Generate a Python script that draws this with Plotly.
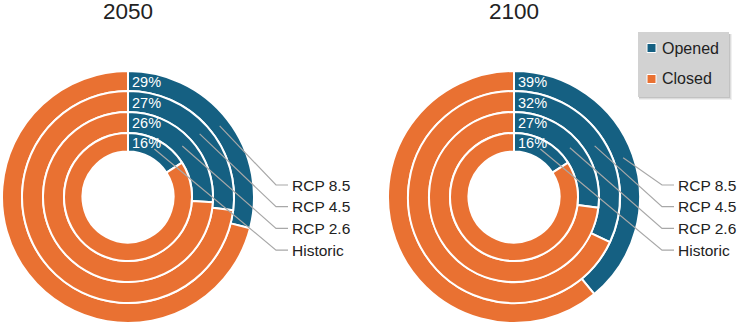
import math
import plotly.graph_objects as go

# ---------------- data ----------------
years = ["2050", "2100"]
scenarios = ["RCP 8.5", "RCP 4.5", "RCP 2.6", "Historic"]   # outer -> inner ring
opened_2050 = [29, 27, 26, 16]
closed_2050 = [71, 73, 74, 84]
opened_2100 = [39, 32, 27, 16]
closed_2100 = [61, 68, 73, 84]
status_labels = ["Opened", "Closed"]

opened = {"2050": opened_2050, "2100": opened_2100}
closed = {"2050": closed_2050, "2100": closed_2100}

# ---------------- layout / style ----------------
W, H = 740, 326
BLUE = "#156082"
ORANGE = "#E97132"
TXT = "#222222"
LEAD = "#a8a8a8"
FONT = "Liberation Sans, Arial, sans-serif"
centers = {"2050": (128, 197), "2100": (514, 197)}
radii = [126, 106, 85, 64, 45.5]  # ring edges, outer -> hole


def px(x):
    return x / W


def py(y):
    return 1 - y / H


fig = go.Figure()
annotations = []
shapes = []

for yr in years:
    cx, cy = centers[yr]
    for i, sc in enumerate(scenarios):
        r_out, r_in = radii[i], radii[i + 1]
        fig.add_trace(go.Pie(
            labels=status_labels,
            values=[opened[yr][i], closed[yr][i]],
            name=f"{yr} {sc}",
            marker=dict(colors=[BLUE, ORANGE], line=dict(color="white", width=2)),
            hole=r_in / r_out,
            sort=False,
            direction="clockwise",
            rotation=0,
            textinfo="none",
            showlegend=False,
            hovertemplate=f"{yr} {sc}<br>%{{label}}: %{{value}}%<extra></extra>",
            domain=dict(x=[px(cx - r_out), px(cx + r_out)],
                        y=[py(cy + r_out), py(cy - r_out)]),
        ))
        rmid = (r_out + r_in) / 2
        # percentage label at the start of the opened slice
        annotations.append(dict(
            x=px(cx + 2), y=py(cy - rmid + 1), xref="paper", yref="paper",
            text=f"{opened[yr][i]}%", showarrow=False, xanchor="left", yanchor="middle",
            font=dict(family=FONT, size=14.5, color="white"),
        ))
        # leader line from slice centroid to scenario label
        ang = math.radians(opened[yr][i] / 100 * 360 / 2)
        sx, sy = cx + rmid * math.sin(ang), cy - rmid * math.cos(ang)
        ly = cy - 12 + i * 21.7
        ex1, ex2 = cx + 148, cx + 160
        shapes.append(dict(
            type="path", xref="paper", yref="paper",
            path=f"M {px(sx)},{py(sy)} L {px(ex1)},{py(ly)} L {px(ex2)},{py(ly)}",
            line=dict(color=LEAD, width=1.2),
        ))
        annotations.append(dict(
            x=px(cx + 162), y=py(ly), xref="paper", yref="paper",
            text=sc, showarrow=False, xanchor="left", yanchor="middle",
            font=dict(family=FONT, size=15.5, color=TXT),
        ))
    # title
    annotations.append(dict(
        x=px(cx), y=py(11), xref="paper", yref="paper", text=yr, showarrow=False,
        xanchor="center", yanchor="middle", font=dict(family=FONT, size=22.5, color=TXT),
    ))

# ---------------- legend (drawn box) ----------------
bx0, by0, bx1, by1 = 638, 32, 729, 97
for k, a in enumerate([0.06, 0.08, 0.12]):
    d = 3 - k
    shapes.append(dict(type="rect", xref="paper", yref="paper",
                       x0=px(bx0 + 1), x1=px(bx1 + d), y0=py(by1 + d), y1=py(by0 + 2),
                       fillcolor=f"rgba(0,0,0,{a})", line=dict(width=0)))
shapes.append(dict(type="rect", xref="paper", yref="paper",
                   x0=px(bx0), x1=px(bx1), y0=py(by1), y1=py(by0),
                   fillcolor="#d2d2d2", line=dict(width=0)))
for lab, col, ly in zip(status_labels, [BLUE, ORANGE], [48, 79]):
    shapes.append(dict(type="rect", xref="paper", yref="paper",
                       x0=px(647), x1=px(656), y0=py(ly + 4.5), y1=py(ly - 4.5),
                       fillcolor=col, line=dict(color="white", width=1)))
    annotations.append(dict(
        x=px(660), y=py(ly), xref="paper", yref="paper", text=lab, showarrow=False,
        xanchor="left", yanchor="middle", font=dict(family=FONT, size=16, color=TXT),
    ))

fig.update_layout(
    width=W, height=H,
    margin=dict(l=0, r=0, t=0, b=0),
    paper_bgcolor="white", plot_bgcolor="white",
    showlegend=False,
    annotations=annotations,
    shapes=shapes,
)

fig.write_html(
    "out.html",
    config={"displayModeBar": False},
    post_script="document.body.style.margin='0px';document.body.style.overflow='hidden';",
)
